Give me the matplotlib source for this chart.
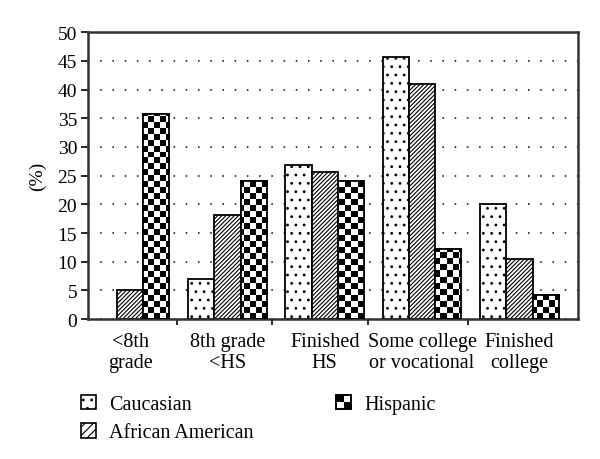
import numpy as np
import matplotlib
matplotlib.use("Agg")
import matplotlib.pyplot as plt
from matplotlib.patches import Rectangle
from matplotlib.legend_handler import HandlerBase

categories = ["<8th\ngrade", "8th grade\n<HS", "Finished\nHS", "Some college\nor vocational", "Finished\ncollege"]
series_names = ["Caucasian", "African American", "Hispanic"]
caucasian = [0, 7, 26.8, 45.7, 20]
african_american = [5, 18.2, 25.6, 41, 10.4]
hispanic = [35.7, 24, 24.1, 12.2, 4.2]
yticks = [0, 5, 10, 15, 20, 25, 30, 35, 40, 45, 50]

plt.rcParams['font.family'] = ['Liberation Serif', 'DejaVu Serif']
plt.rcParams['hatch.linewidth'] = 0.8

fig = plt.figure(figsize=(6, 4.6), dpi=100)
ax = fig.add_axes([0.147, 0.304, 0.816, 0.624])

x = np.arange(len(categories))
w = 0.27
ax.set_axisbelow(True)
ax.yaxis.grid(True, linestyle=(0, (1, 7)), color='black', linewidth=1.1)

b1 = ax.bar(x - w, caucasian, w, facecolor='white', edgecolor='black', hatch='..', linewidth=1.3)
b2 = ax.bar(x, african_american, w, facecolor='white', edgecolor='black', hatch='////////', linewidth=1.3)
b3 = ax.bar(x + w, hispanic, w, facecolor='white', edgecolor='black', linewidth=1.3, zorder=2)
for r, v in zip(b1, caucasian):
    if v == 0:
        r.set_visible(False)

# checkerboard fill for Hispanic bars
ncol, nrow = 82, 48
checker = (np.add.outer(np.arange(nrow), np.arange(ncol)) % 2).astype(float)
for r in b3:
    im = ax.imshow(checker, cmap='gray', extent=(0, 1, 0, 1), transform=ax.transAxes,
                   interpolation='nearest', aspect='auto', zorder=2.5, vmin=0, vmax=1)
    im.set_clip_path(r)
    edge = Rectangle(r.get_xy(), r.get_width(), r.get_height(), facecolor='none',
                     edgecolor='black', linewidth=1.3, zorder=3)
    ax.add_patch(edge)

ax.set_xlim(-0.43, 4.6)
ax.set_ylim(0, 50)
ax.set_yticks(yticks)
ax.set_xticks(x)
ax.set_xticklabels(categories, fontsize=14.5, linespacing=1.2)
ax.set_xticks([0.48, 1.46, 2.44, 3.47], minor=True)
ax.tick_params(axis='x', which='major', length=0, pad=9)
ax.tick_params(axis='x', which='minor', length=4, width=1.2, direction='out')
ax.tick_params(axis='y', length=5, width=1.2, direction='out', labelsize=14, pad=3)
ax.set_ylabel("(%)", fontsize=14, labelpad=8)
for s in ax.spines.values():
    s.set_linewidth(1.8)
    s.set_color('#333333')


class CheckerHandler(HandlerBase):
    def create_artists(self, legend, orig_handle, xdescent, ydescent, width, height, fontsize, trans):
        s = min(width, height)
        x0 = -xdescent
        y0 = -ydescent
        arts = [Rectangle((x0, y0), s, s, facecolor='white', edgecolor='black', lw=1.2, transform=trans)]
        h = s / 2
        arts.append(Rectangle((x0, y0 + h), h, h, facecolor='black', edgecolor='none', transform=trans))
        arts.append(Rectangle((x0 + h, y0), h, h, facecolor='black', edgecolor='none', transform=trans))
        arts.append(Rectangle((x0, y0), s, s, facecolor='none', edgecolor='black', lw=1.2, transform=trans))
        return arts


class SquareHandler(HandlerBase):
    def create_artists(self, legend, orig_handle, xdescent, ydescent, width, height, fontsize, trans):
        s = min(width, height)
        r = Rectangle((-xdescent, -ydescent), s, s, facecolor='white', edgecolor='black',
                      hatch=orig_handle.get_hatch(), lw=1.2, transform=trans)
        return [r]


h1 = Rectangle((0, 0), 1, 1, facecolor='white', edgecolor='black', hatch='..')
h2 = Rectangle((0, 0), 1, 1, facecolor='white', edgecolor='black', hatch='////')
h3 = Rectangle((0, 0), 1, 1, facecolor='white', edgecolor='black')
fig.legend([h1, h2, h3], series_names, ncol=2, frameon=False, fontsize=14.5,
           loc='upper left', bbox_to_anchor=(0.135, 0.14), handlelength=0.75, handleheight=0.75,
           handletextpad=0.65, columnspacing=4.1, labelspacing=0.45, borderaxespad=0, borderpad=0,
           handler_map={h1: SquareHandler(), h2: SquareHandler(), h3: CheckerHandler()})

fig.savefig("out.png", dpi=100)
